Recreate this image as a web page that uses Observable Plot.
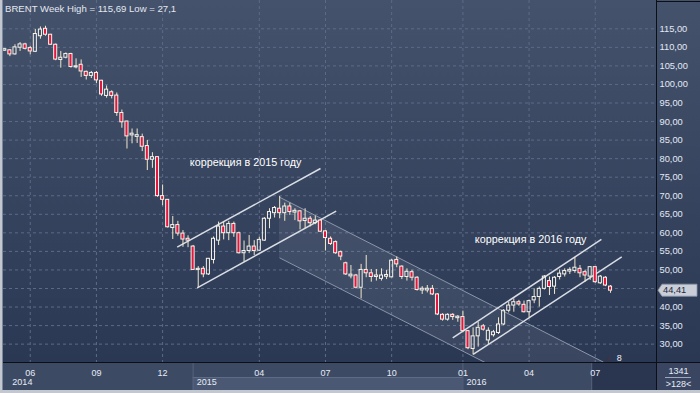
<!DOCTYPE html>
<html>
<head>
<meta charset="utf-8">
<script src="https://cdn.jsdelivr.net/npm/d3@7"></script>
<script src="https://cdn.jsdelivr.net/npm/@observablehq/plot@0.6"></script>
<style>
  html, body { margin:0; padding:0; background:#c3c8d0; }
  #chart { width:700px; height:393px; overflow:hidden; background:#c3c8d0; }
  #chart svg { display:block; }
</style>
</head>
<body>
<div id="chart"></div>
<script>
const titleText = "BRENT Week High = 115,69 Low = 27,1";

// weekly OHLC, one entry per bar (index 0 = first bar on the left)
const opens  = [109.1,109.2,108.1,109.9,110.8,109.8,108.8,113.0,115.0,113.4,
                110.7,106.6,107.2,108.2,104.6,105.3,103.4,102.3,103.1,101.0,
                96.9,97.9,97.0,92.3,90.0,86.4,86.0,85.8,83.4,79.7,
                80.4,69.9,68.9,61.3,62.1,59.8,58.4,56.3,50.0,50.3,
                48.8,52.7,57.9,61.7,59.9,62.4,59.9,54.5,55.1,56.3,
                55.2,57.9,63.8,65.3,66.5,65.3,67.1,65.6,65.8,63.2,
                63.8,62.6,63.3,60.4,58.4,57.5,54.8,51.8,48.4,48.5,
                45.2,50.0,49.1,48.1,47.6,48.3,48.0,52.7,50.9,48.1,
                49.4,47.9,44.6,44.6,44.9,43.4,37.9,36.6,37.9,37.0,
                37.3,33.5,28.7,32.1,34.8,31.0,32.4,33.0,35.3,39.0,
                40.4,41.3,40.6,38.6,41.8,42.7,44.9,47.0,45.5,48.1,
                48.8,49.7,49.7,50.3,49.4,48.2,50.75,46.4,47.9,45.5];
const highs  = [109.7,109.4,110.7,111.3,111.1,110.3,114.8,115.5,115.69,113.5,
                110.9,108.9,108.5,108.4,106.9,106.6,103.6,103.5,103.5,101.1,
                99.6,98.3,97.7,93.1,90.1,88.0,88.0,86.6,84.9,81.6,
                80.5,72.9,69.0,64.4,63.1,60.6,59.2,56.6,50.9,50.9,
                53.1,58.9,62.9,62.9,63.1,62.9,60.2,57.8,59.3,57.9,
                58.8,64.1,66.5,67.1,69.8,68.0,68.0,66.5,66.0,66.5,
                64.4,64.5,63.5,60.6,58.9,57.8,55.1,52.1,51.2,48.8,
                51.5,53.9,50.1,50.1,50.3,49.9,52.8,53.5,51.1,50.3,
                49.9,48.2,45.5,45.8,45.8,43.6,38.2,38.2,38.2,37.7,
                38.9,33.7,34.4,35.9,35.3,34.4,33.7,37.1,39.3,41.3,
                42.2,41.8,41.6,41.9,44.9,45.4,48.5,48.1,48.2,50.0,
                50.3,50.6,53.4,51.2,49.9,50.9,50.9,48.5,48.2,45.8];
const lows   = [108.9,107.5,107.9,108.9,109.3,108.0,108.6,112.2,113.0,110.5,
                106.4,104.4,106.9,104.4,104.2,101.9,101.2,101.6,100.2,96.8,
                96.3,96.1,91.4,88.2,82.6,84.0,84.1,81.9,76.8,77.4,
                69.6,67.3,61.3,58.2,59.1,56.1,56.0,49.9,45.2,47.9,
                48.5,51.6,56.6,58.1,57.9,58.8,54.3,52.1,54.4,53.9,
                55.0,57.7,61.1,64.0,63.8,63.1,64.7,63.3,60.8,61.1,
                61.6,62.2,60.1,55.1,56.6,54.2,52.5,48.5,47.6,44.9,
                42.2,47.9,46.7,47.0,47.0,47.4,47.9,50.6,47.4,47.0,
                47.0,44.3,43.4,43.8,43.1,37.7,36.2,36.2,36.4,35.9,
                33.2,28.5,27.1,29.2,33.5,29.9,31.9,32.6,35.0,38.4,
                38.6,40.2,38.4,37.1,40.9,40.0,44.6,43.1,43.4,47.3,
                48.1,48.8,49.1,47.9,46.7,47.2,46.4,46.1,45.5,43.7];
const closes = [109.5,108.1,110.0,110.8,109.6,108.9,113.6,114.8,113.4,110.7,
                106.7,107.2,108.2,104.7,104.9,103.5,102.3,103.1,101.1,97.3,
                98.6,96.9,92.3,89.8,86.0,86.6,86.2,83.2,79.7,80.4,
                69.9,68.9,61.5,62.1,59.8,58.2,57.9,50.0,50.3,48.8,
                53.0,58.4,61.7,59.9,62.4,59.9,54.5,55.1,56.3,55.1,
                58.1,63.8,65.6,66.7,65.3,67.1,65.6,65.8,63.1,63.8,
                62.6,63.3,60.3,58.6,57.0,54.5,53.6,48.8,48.6,45.2,
                50.0,49.1,48.1,48.5,48.5,48.5,52.5,51.5,48.1,49.5,
                47.9,44.6,44.8,44.8,43.4,38.0,36.6,37.9,37.3,37.4,
                33.5,28.9,32.1,34.4,33.9,33.6,33.2,35.3,39.0,40.4,
                41.3,40.7,38.6,41.6,42.7,44.9,48.2,45.4,47.9,49.0,
                49.7,49.9,50.6,49.1,48.5,50.75,46.7,48.2,45.8,44.41];

const priceTicks = [30,35,40,45,50,55,60,65,70,75,80,85,90,95,100,105,110,115];
const monthTickIdx = [5,18,31,50,63,76,90,103,116];
const monthLabels  = ["06","09","12","04","07","10","01","04","07"];
const yearLabels   = ["2014","2015","2016"];
const yearStartIdx = [0.8,37,90];
const yearEndIdx   = [37,90,115.4];
const lastPrice = 44.41;
const lastPriceLabel = "44,41";
const cornerTop = "1341", cornerBottom = ">128<";

// trend channels drawn on the chart (bar index, price)
const channelSegments = [
  {name:"2015 upper", i1:33.87, p1:56.13, i2:62.02, p2:77.35, kind:"up"},
  {name:"2015 lower", i1:37.8,  p1:45.19, i2:65.1,  p2:65.84, kind:"up"},
  {name:"2016 upper", i1:88.0,  p1:31.71, i2:117.2, p2:58.21, kind:"up"},
  {name:"2016 lower", i1:92.0,  p1:27.21, i2:121.2, p2:53.5,  kind:"up"},
  {name:"down upper", i1:53.97, p1:69.61, i2:117.62,p2:25.13, kind:"down"},
  {name:"down lower", i1:53.97, p1:53.27, i2:117.62,p2:8.79,  kind:"down"}
];
const downChannelArea = [
  {i:53.97, lo:53.27, hi:69.61},
  {i:117.62, lo:8.79, hi:25.13}
];
const annotations = [
  {i:36.35, p:78.9, text:"коррекция в 2015 году"},
  {i:92.34, p:58.2, text:"коррекция в 2016 году"}
];
const markers = [
  {i:118.6, p:26.1, text:"▲", color:"#3a3346"},
  {i:120.7, p:26.2, text:"8", color:"#eef2f8"}
];

const bars = opens.map((o, i) => ({i, o, h: highs[i], l: lows[i], c: closes[i]}));
// the price tag covers the axis label nearest to the last price
const axisLabelTicks = priceTicks.filter(t => Math.abs(t - lastPrice) > 2);

const W = 700, H = 393, ML = 3, MR = 44, MT = 0, MB = 31;
const FONT = "'Liberation Sans', Arial, sans-serif";
const RED = "#e3173e", OUT = "#f6f3ea", WICK = "#f1e8cc";
const bodyTop = d => Math.abs(d.c - d.o) < 0.25 ? Math.max(d.o, d.c) + 0.13 : Math.max(d.o, d.c);
const bodyBot = d => Math.abs(d.c - d.o) < 0.25 ? Math.min(d.o, d.c) - 0.13 : Math.min(d.o, d.c);

const chart = Plot.plot({
  width: W, height: H,
  marginLeft: ML, marginRight: MR, marginTop: MT, marginBottom: MB,
  x: {type: "linear", domain: [-0.255, 128.03], axis: null},
  y: {domain: [25.05, 122.63], axis: null},
  style: {background: "transparent", fontFamily: FONT, overflow: "visible"},
  marks: [
    Plot.gridY(priceTicks, {stroke: "#5c6b89", strokeOpacity: 1, strokeDasharray: "3,3"}),
    Plot.gridX(monthTickIdx, {stroke: "#5c6b89", strokeOpacity: 1, strokeDasharray: "3,3"}),
    Plot.areaY(downChannelArea, {x: "i", y1: "lo", y2: "hi", fill: "#b9c3d3", fillOpacity: 0.11, clip: true}),
    Plot.link(channelSegments.filter(d => d.kind === "down"),
      {x1: "i1", y1: "p1", x2: "i2", y2: "p2", stroke: "#8b95a8", strokeWidth: 1, clip: true}),
    Plot.link(channelSegments.filter(d => d.kind === "up"),
      {x1: "i1", y1: "p1", x2: "i2", y2: "p2", stroke: "#d9dde5", strokeWidth: 1.5, clip: true}),
    Plot.ruleX(bars, {x: "i", y1: "h", y2: bodyTop, stroke: WICK, strokeWidth: 1}),
    Plot.ruleX(bars, {x: "i", y1: "l", y2: bodyBot, stroke: WICK, strokeWidth: 1}),
    Plot.rect(bars.filter(d => d.c < d.o),
      {x1: d => d.i - 0.3, x2: d => d.i + 0.3, y1: bodyBot, y2: bodyTop, fill: RED, stroke: OUT, strokeWidth: 1}),
    Plot.rect(bars.filter(d => d.c >= d.o),
      {x1: d => d.i - 0.3, x2: d => d.i + 0.3, y1: bodyBot, y2: bodyTop, fill: "none", stroke: OUT, strokeWidth: 1}),
    Plot.text(annotations, {x: "i", y: "p", text: "text", textAnchor: "start", fill: "#ffffff", fontSize: 10.8}),
    Plot.text(markers, {x: "i", y: "p", text: "text", fill: d => d.color, fontSize: 9, clip: false}),
    Plot.axisY(axisLabelTicks, {anchor: "right", tickSize: 0, tickPadding: 3, fontSize: 9.3,
      fill: "#e2e9f6", tickFormat: d => d.toFixed(2).replace(".", ",")}),
    Plot.axisX(monthTickIdx, {anchor: "bottom", tickSize: 0, tickPadding: 6.8, fontSize: 9,
      fill: "#e6ecf6", tickFormat: d => monthLabels[monthTickIdx.indexOf(d)]})
  ]
});

document.getElementById("chart").appendChild(chart);

// ---- panels and frame drawn behind/around the plot using the plot's scales ----
const svg = d3.select(chart);
const xs = chart.scale("x"), ys = chart.scale("y");
const px0 = ML, px1 = W - MR, py1 = H - MB;
const bottomEnd = H - 3;

const bg = svg.insert("g", ":first-child");
const defs = svg.insert("defs", ":first-child");
const g1 = defs.append("linearGradient").attr("id", "plotbg").attr("x1", 0).attr("y1", 0).attr("x2", 0).attr("y2", 1);
g1.append("stop").attr("offset", "0%").attr("stop-color", "#45526c");
g1.append("stop").attr("offset", "100%").attr("stop-color", "#2b3853");

bg.append("rect").attr("x", px0).attr("y", 0).attr("width", px1 - px0).attr("height", py1).attr("fill", "url(#plotbg)");
bg.append("rect").attr("x", px1).attr("y", 0).attr("width", W - px1).attr("height", py1).attr("fill", "url(#plotbg)");
// bottom time panel
bg.append("rect").attr("x", px0).attr("y", py1).attr("width", W - px0).attr("height", bottomEnd - py1).attr("fill", "#3d4a64");

const rowSplit = py1 + 15.5;
yearLabels.forEach((lab, k) => {
  const a = Math.max(px0, xs.apply(yearStartIdx[k]));
  const b = xs.apply(yearEndIdx[k]);
  if (k === 1) {
    bg.append("rect").attr("x", a).attr("y", rowSplit).attr("width", b - a).attr("height", bottomEnd - rowSplit).attr("fill", "#4b5873");
    bg.append("line").attr("x1", a).attr("x2", b).attr("y1", rowSplit).attr("y2", rowSplit).attr("stroke", "#5e6c88");
  }
  if (k > 0) bg.append("line").attr("x1", a + 0.5).attr("x2", a + 0.5).attr("y1", py1).attr("y2", bottomEnd).attr("stroke", "#56637e");
});
// dark region at the right end of the time panel
const shadeX = xs.apply(yearEndIdx[2]);
bg.append("rect").attr("x", shadeX).attr("y", py1).attr("width", px1 - shadeX).attr("height", bottomEnd - py1).attr("fill", "#2a3550");
bg.append("line").attr("x1", shadeX).attr("x2", shadeX).attr("y1", py1).attr("y2", bottomEnd).attr("stroke", "#56637e");
// corner box
bg.append("rect").attr("x", px1).attr("y", py1).attr("width", W - px1).attr("height", bottomEnd - py1).attr("fill", "#3a4661");

// frame lines on top
const fg = svg.append("g").attr("text-anchor", "start");
fg.append("line").attr("x1", px0).attr("x2", W).attr("y1", py1 + 0.5).attr("y2", py1 + 0.5).attr("stroke", "#0c0f16");
fg.append("line").attr("x1", px1 + 0.5).attr("x2", px1 + 0.5).attr("y1", 0).attr("y2", bottomEnd).attr("stroke", "#0c0f16");
fg.append("line").attr("x1", px1).attr("x2", W).attr("y1", 1.5).attr("y2", 1.5).attr("stroke", "#0c0f16");
fg.append("line").attr("x1", px0 - 0.5).attr("x2", px0 - 0.5).attr("y1", 0).attr("y2", bottomEnd).attr("stroke", "#7d889c");

// year labels
yearLabels.forEach((lab, k) => {
  const a = Math.max(px0, xs.apply(yearStartIdx[k]));
  fg.append("text").attr("x", a + 4).attr("y", py1 + 23.3).attr("fill", "#e6ecf6").attr("text-anchor", "start")
    .attr("font-family", FONT).attr("font-size", 9).text(lab);
});

// title
fg.append("text").attr("x", px0 + 2).attr("y", 12).attr("fill", "#e3e8f0").attr("text-anchor", "start")
  .attr("font-family", FONT).attr("font-size", 9.6).text(titleText);

// last price tag
const yy = ys.apply(lastPrice);
fg.append("polygon")
  .attr("points", [[px1 + 2, yy], [px1 + 6, yy - 6], [W - 3, yy - 6], [W - 3, yy + 6], [px1 + 6, yy + 6]].map(p => p.join(",")).join(" "))
  .attr("fill", "#c9ced8").attr("stroke", "#8d97aa").attr("stroke-width", 0.8);
fg.append("text").attr("x", px1 + 7).attr("y", yy).attr("dy", "0.34em").attr("fill", "#1e2838").attr("text-anchor", "start")
  .attr("font-family", FONT).attr("font-size", 9.3).text(lastPriceLabel);

// corner box texts
const cx = (px1 + W) / 2 + 0.5;
fg.append("text").attr("x", cx).attr("y", py1 + 11.5).attr("text-anchor", "middle").attr("fill", "#e6ecf6")
  .attr("font-family", FONT).attr("font-size", 9).text(cornerTop);
fg.append("line").attr("x1", px1 + 9).attr("x2", W - 9).attr("y1", py1 + 15.5).attr("y2", py1 + 15.5).attr("stroke", "#b8c1d2").attr("stroke-width", 0.8);
fg.append("text").attr("x", cx).attr("y", py1 + 25).attr("text-anchor", "middle").attr("fill", "#e6ecf6")
  .attr("font-family", FONT).attr("font-size", 9).text(cornerBottom);
</script>
</body>
</html>
